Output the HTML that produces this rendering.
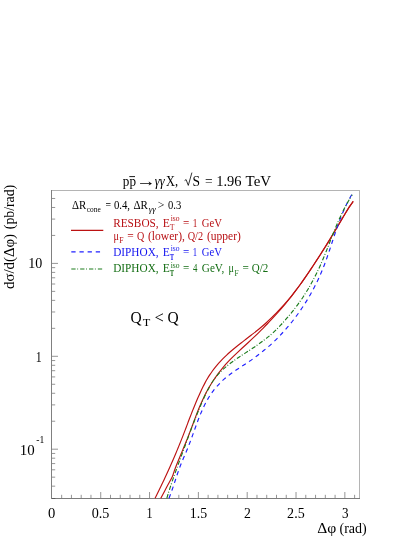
<!DOCTYPE html>
<html><head><meta charset="utf-8"><title>plot</title>
<style>html,body{margin:0;padding:0;background:#fff;}svg{display:block;will-change:transform;}</style>
</head><body>
<svg width="415" height="537" viewBox="0 0 415 537">
<rect width="415" height="537" fill="#fff"/>
<rect x="51" y="190" width="309" height="1" fill="#b4b4b4"/>
<rect x="359" y="190" width="1" height="309" fill="#b4b4b4"/>
<rect x="51" y="498" width="309" height="1" fill="#7c7c7c"/>
<rect x="51" y="190" width="1" height="309" fill="#808080"/>
<rect x="52" y="498" width="3.3" height="1" fill="#5c5c5c"/>
<g stroke="#000" stroke-width="0.42" fill="none">
<line x1="61.66" y1="498" x2="61.66" y2="494.80"/>
<line x1="71.43" y1="498" x2="71.43" y2="494.80"/>
<line x1="81.19" y1="498" x2="81.19" y2="494.80"/>
<line x1="90.96" y1="498" x2="90.96" y2="494.80"/>
<line x1="100.72" y1="498" x2="100.72" y2="492.00"/>
<line x1="110.49" y1="498" x2="110.49" y2="494.80"/>
<line x1="120.25" y1="498" x2="120.25" y2="494.80"/>
<line x1="130.02" y1="498" x2="130.02" y2="494.80"/>
<line x1="139.78" y1="498" x2="139.78" y2="494.80"/>
<line x1="149.55" y1="498" x2="149.55" y2="492.00"/>
<line x1="178.84" y1="498" x2="178.84" y2="494.80"/>
<line x1="188.61" y1="498" x2="188.61" y2="494.80"/>
<line x1="198.38" y1="498" x2="198.38" y2="492.00"/>
<line x1="208.14" y1="498" x2="208.14" y2="494.80"/>
<line x1="217.91" y1="498" x2="217.91" y2="494.80"/>
<line x1="227.67" y1="498" x2="227.67" y2="494.80"/>
<line x1="237.44" y1="498" x2="237.44" y2="494.80"/>
<line x1="247.20" y1="498" x2="247.20" y2="492.00"/>
<line x1="256.97" y1="498" x2="256.97" y2="494.80"/>
<line x1="266.73" y1="498" x2="266.73" y2="494.80"/>
<line x1="276.50" y1="498" x2="276.50" y2="494.80"/>
<line x1="286.26" y1="498" x2="286.26" y2="494.80"/>
<line x1="296.02" y1="498" x2="296.02" y2="492.00"/>
<line x1="305.79" y1="498" x2="305.79" y2="494.80"/>
<line x1="315.56" y1="498" x2="315.56" y2="494.80"/>
<line x1="325.32" y1="498" x2="325.32" y2="494.80"/>
<line x1="335.08" y1="498" x2="335.08" y2="494.80"/>
<line x1="344.85" y1="498" x2="344.85" y2="492.00"/>
<line x1="354.62" y1="498" x2="354.62" y2="494.80"/>
<line x1="52" y1="486.17" x2="55.20" y2="486.17"/>
<line x1="52" y1="477.17" x2="55.20" y2="477.17"/>
<line x1="52" y1="469.81" x2="55.20" y2="469.81"/>
<line x1="52" y1="463.59" x2="55.20" y2="463.59"/>
<line x1="52" y1="458.20" x2="55.20" y2="458.20"/>
<line x1="52" y1="453.45" x2="55.20" y2="453.45"/>
<line x1="52" y1="449.20" x2="58.00" y2="449.20"/>
<line x1="52" y1="421.23" x2="55.20" y2="421.23"/>
<line x1="52" y1="404.88" x2="55.20" y2="404.88"/>
<line x1="52" y1="393.27" x2="55.20" y2="393.27"/>
<line x1="52" y1="384.27" x2="55.20" y2="384.27"/>
<line x1="52" y1="376.91" x2="55.20" y2="376.91"/>
<line x1="52" y1="370.69" x2="55.20" y2="370.69"/>
<line x1="52" y1="365.30" x2="55.20" y2="365.30"/>
<line x1="52" y1="360.55" x2="55.20" y2="360.55"/>
<line x1="52" y1="356.30" x2="58.00" y2="356.30"/>
<line x1="52" y1="328.33" x2="55.20" y2="328.33"/>
<line x1="52" y1="311.98" x2="55.20" y2="311.98"/>
<line x1="52" y1="300.37" x2="55.20" y2="300.37"/>
<line x1="52" y1="291.37" x2="55.20" y2="291.37"/>
<line x1="52" y1="284.01" x2="55.20" y2="284.01"/>
<line x1="52" y1="277.79" x2="55.20" y2="277.79"/>
<line x1="52" y1="272.40" x2="55.20" y2="272.40"/>
<line x1="52" y1="267.65" x2="55.20" y2="267.65"/>
<line x1="52" y1="263.40" x2="58.00" y2="263.40"/>
<line x1="52" y1="235.43" x2="55.20" y2="235.43"/>
<line x1="52" y1="219.08" x2="55.20" y2="219.08"/>
<line x1="52" y1="207.47" x2="55.20" y2="207.47"/>
<line x1="52" y1="198.47" x2="55.20" y2="198.47"/>
</g>
<g fill="none" stroke-width="1.15" stroke-linejoin="round">
<path d="M160.80,498.30 C161.77,496.47 164.67,490.95 166.60,487.30 C168.53,483.65 171.20,478.89 172.40,476.40 C173.60,473.91 173.31,473.70 173.79,472.36 C174.27,471.01 174.76,469.66 175.27,468.31 C175.78,466.96 176.30,465.62 176.83,464.27 C177.36,462.92 177.91,461.57 178.46,460.22 C179.00,458.88 179.56,457.53 180.12,456.18 C180.68,454.83 181.24,453.48 181.81,452.14 C182.37,450.79 182.94,449.44 183.50,448.09 C184.06,446.74 184.62,445.40 185.18,444.05 C185.73,442.70 186.28,441.35 186.82,440.00 C187.36,438.65 187.90,437.31 188.42,435.96 C188.94,434.61 189.45,433.25 189.96,431.91 C190.47,430.58 190.97,429.26 191.46,427.94 C191.96,426.62 192.45,425.29 192.95,423.97 C193.44,422.64 193.93,421.32 194.43,419.99 C194.93,418.67 195.42,417.34 195.93,416.02 C196.44,414.70 196.95,413.37 197.47,412.05 C197.99,410.73 198.52,409.40 199.06,408.08 C199.60,406.76 200.15,405.44 200.72,404.12 C201.29,402.80 201.88,401.48 202.48,400.16 C203.09,398.84 203.70,397.52 204.35,396.20 C204.99,394.89 205.66,393.58 206.35,392.27 C207.04,390.96 207.75,389.65 208.49,388.35 C209.24,387.04 210.00,385.74 210.81,384.44 C211.61,383.14 212.44,381.85 213.31,380.54 C214.18,379.24 215.08,377.93 216.02,376.60 C216.96,375.27 217.94,373.90 218.96,372.55 C219.98,371.20 221.04,369.86 222.15,368.51 C223.26,367.16 224.40,365.81 225.61,364.46 C226.81,363.12 228.06,361.77 229.36,360.42 C230.65,359.07 232.01,357.72 233.38,356.38 C234.76,355.03 236.18,353.68 237.61,352.33 C239.05,350.98 240.51,349.64 241.97,348.29 C243.44,346.94 244.92,345.59 246.39,344.24 C247.85,342.90 249.32,341.55 250.77,340.20 C252.21,338.85 253.64,337.50 255.05,336.16 C256.46,334.81 257.85,333.46 259.21,332.11 C260.58,330.76 261.93,329.42 263.26,328.07 C264.59,326.72 265.91,325.37 267.20,324.02 C268.50,322.68 269.77,321.33 271.03,319.98 C272.29,318.63 273.53,317.28 274.76,315.94 C275.98,314.59 277.19,313.24 278.38,311.89 C279.58,310.54 280.75,309.20 281.92,307.85 C283.08,306.50 284.22,305.15 285.35,303.80 C286.49,302.45 287.60,301.12 288.71,299.76 C289.81,298.40 290.90,297.01 291.97,295.63 C293.05,294.24 294.11,292.84 295.16,291.45 C296.21,290.05 297.24,288.66 298.27,287.27 C299.29,285.88 300.30,284.49 301.30,283.09 C302.30,281.69 303.29,280.29 304.27,278.88 C305.24,277.48 306.21,276.07 307.17,274.66 C308.12,273.26 309.07,271.85 310.00,270.45 C310.94,269.05 311.87,267.64 312.78,266.24 C313.70,264.84 314.61,263.43 315.51,262.06 C316.40,260.69 317.29,259.37 318.17,258.02 C319.05,256.67 319.93,255.32 320.79,253.97 C321.66,252.63 322.51,251.28 323.36,249.93 C324.21,248.58 325.05,247.23 325.89,245.89 C326.72,244.54 327.55,243.19 328.37,241.84 C329.19,240.49 330.00,239.15 330.81,237.80 C331.62,236.45 332.42,235.10 333.22,233.75 C334.02,232.40 334.81,231.06 335.61,229.71 C336.40,228.36 337.19,227.01 337.99,225.66 C338.79,224.32 339.58,222.97 340.39,221.62 C341.19,220.27 342.00,218.92 342.81,217.58 C343.63,216.23 344.45,214.88 345.29,213.53 C346.12,212.18 346.97,210.84 347.83,209.49 C348.69,208.14 349.56,206.79 350.46,205.44 C351.35,204.10 352.73,202.07 353.18,201.40" stroke="#bc1212"/>
<path d="M155.07,498.30 C155.40,497.63 156.40,495.63 157.05,494.29 C157.71,492.95 158.36,491.61 159.01,490.28 C159.66,488.94 160.31,487.60 160.95,486.26 C161.59,484.93 162.23,483.59 162.86,482.25 C163.49,480.91 164.12,479.58 164.74,478.24 C165.37,476.90 165.99,475.56 166.60,474.23 C167.22,472.89 167.83,471.55 168.44,470.21 C169.04,468.88 169.64,467.54 170.24,466.20 C170.84,464.87 171.43,463.53 172.02,462.19 C172.60,460.85 173.19,459.52 173.76,458.18 C174.34,456.84 174.91,455.50 175.48,454.17 C176.05,452.83 176.61,451.49 177.17,450.15 C177.73,448.82 178.28,447.48 178.82,446.14 C179.37,444.80 179.91,443.47 180.45,442.13 C180.98,440.79 181.52,439.45 182.04,438.12 C182.57,436.78 183.09,435.44 183.60,434.11 C184.12,432.77 184.63,431.43 185.14,430.09 C185.65,428.76 186.16,427.42 186.66,426.08 C187.17,424.74 187.68,423.41 188.18,422.07 C188.69,420.73 189.20,419.39 189.70,418.06 C190.21,416.73 190.72,415.42 191.24,414.10 C191.76,412.78 192.27,411.47 192.80,410.16 C193.32,408.84 193.85,407.53 194.39,406.21 C194.92,404.90 195.46,403.59 196.01,402.27 C196.56,400.96 197.12,399.65 197.69,398.33 C198.26,397.02 198.83,395.71 199.42,394.40 C200.01,393.09 200.61,391.78 201.22,390.47 C201.84,389.16 202.46,387.84 203.11,386.54 C203.76,385.23 204.43,383.92 205.13,382.61 C205.83,381.31 206.55,380.02 207.32,378.72 C208.09,377.42 208.88,376.13 209.73,374.84 C210.58,373.55 211.47,372.26 212.41,370.97 C213.35,369.68 214.34,368.41 215.40,367.10 C216.46,365.78 217.56,364.42 218.74,363.09 C219.93,361.75 221.17,360.41 222.49,359.07 C223.81,357.74 225.21,356.40 226.66,355.06 C228.12,353.72 229.64,352.39 231.20,351.05 C232.77,349.71 234.39,348.38 236.03,347.04 C237.67,345.70 239.36,344.36 241.06,343.03 C242.75,341.69 244.49,340.35 246.21,339.01 C247.93,337.68 249.68,336.34 251.39,335.00 C253.11,333.66 254.83,332.33 256.49,330.99 C258.16,329.65 259.80,328.31 261.39,326.98 C262.97,325.64 264.49,324.30 265.98,322.96 C267.47,321.63 268.90,320.29 270.30,318.95 C271.70,317.62 273.05,316.28 274.38,314.94 C275.71,313.60 277.01,312.27 278.28,310.93 C279.56,309.59 280.80,308.25 282.02,306.92 C283.24,305.58 284.44,304.24 285.61,302.90 C286.79,301.57 287.93,300.25 289.06,298.89 C290.19,297.54 291.30,296.16 292.39,294.78 C293.48,293.41 294.55,292.02 295.61,290.64 C296.66,289.26 297.70,287.88 298.72,286.51 C299.74,285.13 300.74,283.76 301.74,282.37 C302.73,280.99 303.71,279.59 304.68,278.20 C305.65,276.81 306.60,275.42 307.55,274.03 C308.50,272.64 309.43,271.25 310.36,269.86 C311.28,268.48 312.20,267.08 313.11,265.70 C314.01,264.32 314.91,262.94 315.80,261.58 C316.69,260.23 317.57,258.91 318.44,257.57 C319.31,256.23 320.18,254.90 321.03,253.56 C321.89,252.22 322.74,250.88 323.58,249.55 C324.43,248.21 325.27,246.87 326.10,245.53 C326.93,244.20 327.75,242.86 328.57,241.52 C329.40,240.18 330.21,238.85 331.02,237.51 C331.83,236.17 332.64,234.83 333.44,233.50 C334.25,232.16 335.04,230.82 335.84,229.49 C336.63,228.15 337.42,226.81 338.21,225.47 C338.99,224.14 339.77,222.80 340.55,221.46 C341.32,220.12 342.08,218.79 342.86,217.45 C343.64,216.11 344.40,214.77 345.20,213.44 C346.00,212.10 346.80,210.76 347.66,209.42 C348.51,208.09 349.38,206.75 350.31,205.41 C351.25,204.07 352.77,202.07 353.26,201.40" stroke="#bc1212"/>
<path d="M168.98,498.30 C169.24,497.63 170.02,495.63 170.52,494.30 C171.02,492.96 171.49,491.63 171.96,490.30 C172.43,488.96 172.88,487.63 173.33,486.30 C173.77,484.96 174.21,483.63 174.65,482.29 C175.09,480.96 175.52,479.63 175.96,478.29 C176.41,476.96 176.85,475.63 177.30,474.29 C177.75,472.96 178.21,471.62 178.68,470.29 C179.16,468.96 179.64,467.62 180.15,466.29 C180.66,464.96 181.18,463.62 181.73,462.29 C182.27,460.95 182.84,459.62 183.41,458.29 C183.98,456.95 184.57,455.62 185.15,454.29 C185.72,452.95 186.30,451.62 186.85,450.28 C187.41,448.95 187.95,447.62 188.47,446.28 C189.00,444.95 189.51,443.61 190.01,442.28 C190.51,440.96 191.00,439.65 191.48,438.33 C191.97,437.01 192.44,435.69 192.92,434.38 C193.39,433.06 193.86,431.74 194.34,430.42 C194.81,429.10 195.28,427.79 195.76,426.47 C196.24,425.15 196.72,423.83 197.21,422.52 C197.71,421.20 198.20,419.88 198.72,418.56 C199.23,417.25 199.75,415.93 200.29,414.62 C200.83,413.30 201.39,411.98 201.97,410.67 C202.55,409.36 203.14,408.04 203.77,406.73 C204.40,405.42 205.05,404.11 205.74,402.80 C206.43,401.49 207.15,400.19 207.92,398.88 C208.69,397.58 209.48,396.28 210.34,394.98 C211.21,393.68 212.11,392.40 213.11,391.09 C214.10,389.78 215.15,388.47 216.31,387.13 C217.47,385.78 218.70,384.39 220.05,383.02 C221.41,381.65 222.85,380.27 224.44,378.89 C226.03,377.52 227.74,376.13 229.57,374.75 C231.40,373.36 233.42,371.95 235.42,370.58 C237.42,369.21 239.56,367.85 241.59,366.51 C243.63,365.16 245.69,363.84 247.65,362.51 C249.61,361.17 251.53,359.84 253.37,358.50 C255.22,357.17 257.00,355.83 258.72,354.50 C260.44,353.18 262.09,351.86 263.68,350.57 C265.27,349.28 266.80,348.03 268.28,346.76 C269.76,345.48 271.19,344.21 272.57,342.93 C273.96,341.65 275.29,340.38 276.59,339.09 C277.90,337.80 279.16,336.48 280.39,335.17 C281.63,333.85 282.83,332.52 284.02,331.19 C285.20,329.87 286.36,328.55 287.50,327.22 C288.64,325.89 289.76,324.57 290.85,323.21 C291.95,321.86 293.02,320.47 294.07,319.11 C295.12,317.74 296.15,316.37 297.15,315.00 C298.15,313.63 299.13,312.27 300.08,310.90 C301.03,309.53 301.96,308.17 302.87,306.80 C303.78,305.43 304.66,304.05 305.52,302.67 C306.38,301.30 307.22,299.93 308.03,298.56 C308.85,297.18 309.64,295.81 310.42,294.44 C311.19,293.08 311.94,291.71 312.67,290.34 C313.40,288.97 314.12,287.59 314.81,286.24 C315.50,284.89 316.17,283.56 316.83,282.23 C317.48,280.89 318.12,279.56 318.73,278.23 C319.35,276.89 319.95,275.56 320.53,274.23 C321.11,272.89 321.68,271.56 322.23,270.23 C322.78,268.89 323.31,267.56 323.83,266.22 C324.35,264.89 324.85,263.56 325.34,262.22 C325.84,260.89 326.32,259.55 326.79,258.22 C327.26,256.89 327.72,255.55 328.18,254.22 C328.64,252.89 329.08,251.55 329.53,250.22 C329.97,248.88 330.41,247.55 330.85,246.22 C331.29,244.88 331.72,243.55 332.16,242.22 C332.59,240.88 333.02,239.55 333.46,238.21 C333.90,236.88 334.34,235.55 334.79,234.21 C335.23,232.88 335.68,231.55 336.14,230.21 C336.60,228.88 337.06,227.54 337.53,226.21 C338.01,224.88 338.49,223.54 338.99,222.21 C339.48,220.88 339.99,219.54 340.51,218.21 C341.03,216.87 341.57,215.54 342.12,214.21 C342.67,212.87 343.24,211.54 343.83,210.21 C344.42,208.87 345.03,207.54 345.66,206.20 C346.29,204.87 346.94,203.54 347.61,202.20 C348.29,200.87 348.98,199.54 349.71,198.20 C350.43,196.87 351.58,194.87 351.96,194.20" stroke="#2020ff" stroke-dasharray="4.3,3.85"/>
<path d="M166.82,498.30 C167.02,497.63 167.61,495.60 168.03,494.25 C168.44,492.90 168.86,491.56 169.28,490.21 C169.71,488.86 170.15,487.51 170.59,486.16 C171.04,484.81 171.49,483.46 171.95,482.11 C172.40,480.76 172.87,479.42 173.34,478.07 C173.80,476.72 174.28,475.37 174.76,474.02 C175.23,472.67 175.72,471.32 176.20,469.97 C176.69,468.62 177.18,467.28 177.67,465.93 C178.16,464.58 178.65,463.23 179.15,461.88 C179.64,460.53 180.14,459.18 180.63,457.83 C181.13,456.48 181.63,455.14 182.12,453.79 C182.62,452.44 183.12,451.09 183.61,449.74 C184.10,448.39 184.60,447.04 185.09,445.69 C185.58,444.34 186.07,443.00 186.56,441.65 C187.05,440.30 187.55,438.95 188.04,437.60 C188.53,436.25 189.03,434.90 189.53,433.55 C190.03,432.21 190.52,430.88 191.03,429.54 C191.53,428.21 192.04,426.88 192.55,425.55 C193.07,424.21 193.58,422.88 194.10,421.55 C194.63,420.22 195.15,418.89 195.69,417.56 C196.22,416.23 196.77,414.89 197.31,413.56 C197.86,412.23 198.42,410.90 198.97,409.57 C199.52,408.24 200.06,406.91 200.61,405.58 C201.17,404.25 201.73,402.92 202.31,401.59 C202.89,400.26 203.47,398.93 204.08,397.60 C204.68,396.27 205.30,394.95 205.95,393.62 C206.59,392.30 207.25,390.98 207.94,389.66 C208.63,388.34 209.32,387.02 210.09,385.70 C210.85,384.38 211.64,383.07 212.52,381.75 C213.40,380.43 214.33,379.14 215.37,377.79 C216.42,376.44 217.54,375.03 218.79,373.65 C220.05,372.26 221.42,370.87 222.92,369.48 C224.41,368.09 226.06,366.70 227.79,365.30 C229.52,363.90 231.39,362.49 233.31,361.10 C235.23,359.70 237.26,358.29 239.30,356.92 C241.34,355.55 243.45,354.22 245.52,352.87 C247.60,351.52 249.71,350.17 251.74,348.82 C253.77,347.47 255.80,346.12 257.71,344.78 C259.63,343.44 261.47,342.09 263.22,340.78 C264.96,339.47 266.60,338.22 268.17,336.93 C269.74,335.65 271.22,334.36 272.66,333.07 C274.09,331.78 275.44,330.50 276.77,329.19 C278.09,327.88 279.35,326.55 280.59,325.21 C281.84,323.88 283.04,322.54 284.23,321.20 C285.42,319.86 286.60,318.53 287.75,317.18 C288.91,315.83 290.05,314.48 291.17,313.11 C292.28,311.74 293.38,310.34 294.45,308.96 C295.52,307.57 296.57,306.19 297.60,304.81 C298.62,303.42 299.61,302.04 300.58,300.66 C301.55,299.28 302.49,297.89 303.40,296.50 C304.31,295.11 305.20,293.72 306.07,292.33 C306.93,290.94 307.77,289.56 308.59,288.17 C309.40,286.78 310.20,285.40 310.97,284.01 C311.74,282.63 312.49,281.24 313.22,279.86 C313.95,278.48 314.66,277.10 315.35,275.73 C316.04,274.37 316.72,273.04 317.37,271.69 C318.03,270.34 318.66,268.99 319.28,267.64 C319.91,266.29 320.51,264.94 321.10,263.59 C321.70,262.24 322.28,260.90 322.85,259.55 C323.42,258.20 323.97,256.85 324.53,255.50 C325.08,254.15 325.62,252.80 326.16,251.45 C326.70,250.10 327.23,248.76 327.75,247.41 C328.28,246.06 328.81,244.71 329.33,243.36 C329.86,242.01 330.38,240.66 330.91,239.31 C331.44,237.96 331.96,236.62 332.50,235.27 C333.03,233.92 333.57,232.57 334.11,231.22 C334.66,229.87 335.21,228.52 335.77,227.17 C336.33,225.82 336.90,224.48 337.48,223.13 C338.06,221.78 338.65,220.43 339.26,219.08 C339.87,217.73 340.49,216.38 341.13,215.03 C341.77,213.68 342.42,212.34 343.10,210.99 C343.78,209.64 344.47,208.29 345.19,206.94 C345.90,205.59 346.64,204.24 347.40,202.89 C348.17,201.54 348.95,200.20 349.77,198.85 C350.58,197.50 351.87,195.47 352.29,194.80" stroke="#1c7c1c" stroke-dasharray="4.3,1.6,0.9,2.05"/>
<line x1="71.0" y1="230.4" x2="103.3" y2="230.4" stroke="#bc1212"/>
<line x1="71.3" y1="251.9" x2="103.3" y2="251.9" stroke="#2020ff" stroke-dasharray="4.3,3.85"/>
<line x1="71.3" y1="269" x2="103.3" y2="269" stroke="#1c7c1c" stroke-dasharray="4.3,1.6,0.9,2.05"/>
</g>
<line x1="129.3" y1="176.6" x2="135.0" y2="176.6" stroke="#000" stroke-width="0.9"/>
<path d="M184.6,180.6 L186.1,179.6 L188.3,185.4 L191.9,172.6" fill="none" stroke="#000" stroke-width="0.8"/>
<text transform="translate(122.80,185.60) scale(0.11279,0.12500)" font-family="Liberation Serif" font-size="116.8" fill="#000">pp</text>
<text transform="translate(135.88,185.60) scale(0.17000,0.12500)" font-family="Liberation Serif" font-size="116.8" fill="#000">→</text>
<text transform="translate(154.80,185.60) scale(0.10686,0.12500)" font-family="Liberation Serif" font-size="116.8" fill="#000" font-style="italic">γγ</text>
<text transform="translate(166.00,185.60) scale(0.10617,0.12500)" font-family="Liberation Serif" font-size="116.8" fill="#000">X,</text>
<text transform="translate(192.40,185.60) scale(0.11563,0.12500)" font-family="Liberation Serif" font-size="116.8" fill="#000">S</text>
<text transform="translate(205.10,185.60) scale(0.11563,0.12500)" font-family="Liberation Serif" font-size="116.8" fill="#000">=</text>
<text transform="translate(216.21,185.60) scale(0.12427,0.12500)" font-family="Liberation Serif" font-size="116.8" fill="#000">1.96</text>
<text transform="translate(245.60,185.60) scale(0.12809,0.12500)" font-family="Liberation Serif" font-size="116.8" fill="#000">TeV</text>
<text transform="translate(48.10,518.30) scale(0.12321,0.12500)" font-family="Liberation Serif" font-size="118.4" fill="#000">0</text>
<text transform="translate(91.70,518.30) scale(0.11949,0.12500)" font-family="Liberation Serif" font-size="118.4" fill="#000">0.5</text>
<text transform="translate(146.48,518.30) scale(0.10208,0.12500)" font-family="Liberation Serif" font-size="118.4" fill="#000">1</text>
<text transform="translate(189.76,518.30) scale(0.11698,0.12500)" font-family="Liberation Serif" font-size="118.4" fill="#000">1.5</text>
<text transform="translate(243.90,518.30) scale(0.11607,0.12500)" font-family="Liberation Serif" font-size="118.4" fill="#000">2</text>
<text transform="translate(287.10,518.30) scale(0.11880,0.12500)" font-family="Liberation Serif" font-size="118.4" fill="#000">2.5</text>
<text transform="translate(342.00,518.30) scale(0.11071,0.12500)" font-family="Liberation Serif" font-size="118.4" fill="#000">3</text>
<text transform="translate(317.20,532.90) scale(0.13256,0.12500)" font-family="Liberation Serif" font-size="117.6" fill="#000">Δφ</text>
<text transform="translate(339.50,532.90) scale(0.11957,0.12500)" font-family="Liberation Serif" font-size="117.6" fill="#000">(rad)</text>
<text transform="translate(28.35,268.10) scale(0.11848,0.12500)" font-family="Liberation Serif" font-size="118.4" fill="#000">10</text>
<text transform="translate(35.80,361.60) scale(0.10000,0.12500)" font-family="Liberation Serif" font-size="118.4" fill="#000">1</text>
<text transform="translate(19.79,454.70) scale(0.12595,0.12500)" font-family="Liberation Serif" font-size="118.4" fill="#000">10</text>
<text transform="translate(36.20,442.50) scale(0.11475,0.12500)" font-family="Liberation Serif" font-size="84" fill="#000">-1</text>
<text transform="translate(13.70,289.00) rotate(-90) scale(0.12553,0.12500)" font-family="Liberation Serif" font-size="118.4" fill="#000">dσ/d(Δφ)</text>
<text transform="translate(13.70,229.20) rotate(-90) scale(0.11654,0.12500)" font-family="Liberation Serif" font-size="118.4" fill="#000">(pb/rad)</text>
<text transform="translate(71.90,208.50) scale(0.11549,0.12500)" font-family="Liberation Serif" font-size="94.4" fill="#000">ΔR</text>
<text transform="translate(86.80,212.00) scale(0.11797,0.12500)" font-family="Liberation Serif" font-size="62.4" fill="#000">cone</text>
<text transform="translate(105.60,208.50) scale(0.10357,0.12500)" font-family="Liberation Serif" font-size="94.4" fill="#000">=</text>
<text transform="translate(113.90,208.50) scale(0.11411,0.12500)" font-family="Liberation Serif" font-size="94.4" fill="#000">0.4,</text>
<text transform="translate(133.50,208.50) scale(0.11709,0.12500)" font-family="Liberation Serif" font-size="94.4" fill="#000">ΔR</text>
<text transform="translate(148.80,212.00) scale(0.13200,0.12500)" font-family="Liberation Serif" font-size="68.8" fill="#000" font-style="italic">γγ</text>
<text transform="translate(157.70,208.50) scale(0.12500,0.12500)" font-family="Liberation Serif" font-size="94.4" fill="#000">&gt;</text>
<text transform="translate(168.00,208.50) scale(0.11281,0.12500)" font-family="Liberation Serif" font-size="94.4" fill="#000">0.3</text>
<text transform="translate(113.20,226.50) scale(0.11953,0.12500)" font-family="Liberation Serif" font-size="94.4" fill="#b81014">RESBOS,</text>
<text transform="translate(162.80,226.50) scale(0.12321,0.12500)" font-family="Liberation Serif" font-size="94.4" fill="#b81014">E</text>
<text transform="translate(169.90,229.80) scale(0.11250,0.12500)" font-family="Liberation Serif" font-size="64" fill="#b81014">T</text>
<text transform="translate(170.70,221.40) scale(0.12228,0.12500)" font-family="Liberation Serif" font-size="62.4" fill="#b81014">iso</text>
<text transform="translate(182.90,226.50) scale(0.11786,0.12500)" font-family="Liberation Serif" font-size="94.4" fill="#b81014">=</text>
<text transform="translate(192.72,226.50) scale(0.09750,0.12500)" font-family="Liberation Serif" font-size="94.4" fill="#b81014">1</text>
<text transform="translate(201.80,226.50) scale(0.11316,0.12500)" font-family="Liberation Serif" font-size="94.4" fill="#b81014">GeV</text>
<text transform="translate(113.50,239.80) scale(0.10833,0.12500)" font-family="Liberation Serif" font-size="94.4" fill="#b81014">μ</text>
<text transform="translate(119.30,243.30) scale(0.12000,0.12500)" font-family="Liberation Serif" font-size="64" fill="#b81014">F</text>
<text transform="translate(127.30,239.80) scale(0.12143,0.12500)" font-family="Liberation Serif" font-size="94.4" fill="#b81014">=</text>
<text transform="translate(137.00,239.80) scale(0.10694,0.12500)" font-family="Liberation Serif" font-size="94.4" fill="#b81014">Q</text>
<text transform="translate(148.00,239.80) scale(0.12262,0.12500)" font-family="Liberation Serif" font-size="94.4" fill="#b81014">(lower),</text>
<text transform="translate(187.70,239.80) scale(0.10887,0.12500)" font-family="Liberation Serif" font-size="94.4" fill="#b81014">Q/2</text>
<text transform="translate(207.00,239.80) scale(0.12181,0.12500)" font-family="Liberation Serif" font-size="94.4" fill="#b81014">(upper)</text>
<text transform="translate(113.20,255.60) scale(0.11957,0.12500)" font-family="Liberation Serif" font-size="94.4" fill="#1414f0">DIPHOX,</text>
<text transform="translate(162.80,255.60) scale(0.12321,0.12500)" font-family="Liberation Serif" font-size="94.4" fill="#1414f0">E</text>
<text transform="translate(169.90,259.50) scale(0.09375,0.12500)" font-family="Liberation Serif" font-size="64" fill="#1414f0" font-weight="bold">T</text>
<text transform="translate(170.70,251.20) scale(0.12228,0.12500)" font-family="Liberation Serif" font-size="62.4" fill="#1414f0">iso</text>
<text transform="translate(182.90,255.60) scale(0.11786,0.12500)" font-family="Liberation Serif" font-size="94.4" fill="#1414f0">=</text>
<text transform="translate(192.76,255.60) scale(0.09250,0.12500)" font-family="Liberation Serif" font-size="94.4" fill="#1414f0">1</text>
<text transform="translate(201.80,255.60) scale(0.11316,0.12500)" font-family="Liberation Serif" font-size="94.4" fill="#1414f0">GeV</text>
<text transform="translate(113.20,272.10) scale(0.11957,0.12500)" font-family="Liberation Serif" font-size="94.4" fill="#146e14">DIPHOX,</text>
<text transform="translate(162.80,272.10) scale(0.12321,0.12500)" font-family="Liberation Serif" font-size="94.4" fill="#146e14">E</text>
<text transform="translate(169.90,276.30) scale(0.09375,0.12500)" font-family="Liberation Serif" font-size="64" fill="#146e14" font-weight="bold">T</text>
<text transform="translate(170.70,267.70) scale(0.12228,0.12500)" font-family="Liberation Serif" font-size="62.4" fill="#146e14">iso</text>
<text transform="translate(182.90,272.10) scale(0.11786,0.12500)" font-family="Liberation Serif" font-size="94.4" fill="#146e14">=</text>
<text transform="translate(192.90,272.10) scale(0.09375,0.12500)" font-family="Liberation Serif" font-size="94.4" fill="#146e14">4</text>
<text transform="translate(201.80,272.10) scale(0.11893,0.12500)" font-family="Liberation Serif" font-size="94.4" fill="#146e14">GeV,</text>
<text transform="translate(228.60,272.30) scale(0.10625,0.12500)" font-family="Liberation Serif" font-size="94.4" fill="#146e14">μ</text>
<text transform="translate(234.40,275.60) scale(0.11500,0.12500)" font-family="Liberation Serif" font-size="64" fill="#146e14">F</text>
<text transform="translate(242.40,272.30) scale(0.11964,0.12500)" font-family="Liberation Serif" font-size="94.4" fill="#146e14">=</text>
<text transform="translate(251.80,272.30) scale(0.11659,0.12500)" font-family="Liberation Serif" font-size="94.4" fill="#146e14">Q/2</text>
<text transform="translate(130.40,322.60) scale(0.12083,0.12500)" font-family="Liberation Serif" font-size="128" fill="#000">Q</text>
<text transform="translate(142.70,326.00) scale(0.14286,0.12500)" font-family="Liberation Serif" font-size="86.4" fill="#000">T</text>
<text transform="translate(154.50,323.00) scale(0.12083,0.12500)" font-family="Liberation Serif" font-size="136" fill="#000">&lt;</text>
<text transform="translate(167.40,322.60) scale(0.12083,0.12500)" font-family="Liberation Serif" font-size="128" fill="#000">Q</text>
</svg>
</body></html>
